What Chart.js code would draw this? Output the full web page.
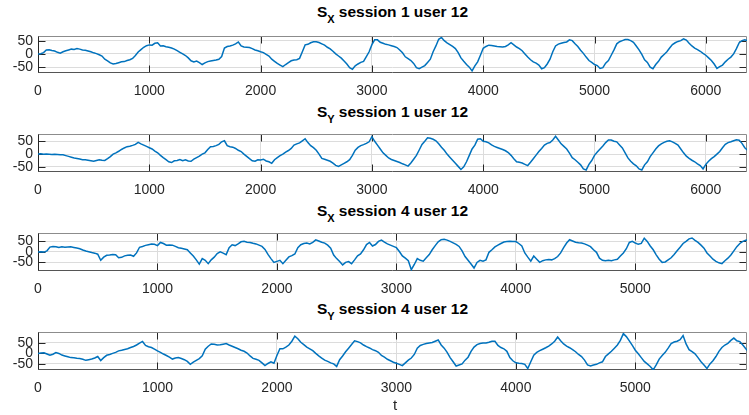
<!DOCTYPE html>
<html>
<head>
<meta charset="utf-8">
<script src="https://cdn.jsdelivr.net/npm/chart.js@4.4.0/dist/chart.umd.min.js"></script>
<style>
html,body{margin:0;padding:0;background:#fff;}
body{width:749px;height:415px;position:relative;overflow:hidden;font-family:"Liberation Sans",Arial,sans-serif;}
canvas{position:absolute;left:0;}
.title{position:absolute;left:38px;width:709px;text-align:center;font-weight:bold;font-size:15.5px;line-height:15px;color:#000;white-space:nowrap;}
.title .sub{font-size:11px;position:relative;top:6px;}
.xlabel{position:absolute;left:380px;width:30px;text-align:center;font-size:15px;line-height:15px;color:#262626;}
</style>
</head>
<body>
<div class="title" style="top:4px">S<span class="sub">X</span> session 1 user 12</div>
<div class="title" style="top:104px">S<span class="sub">Y</span> session 1 user 12</div>
<div class="title" style="top:203px">S<span class="sub">X</span> session 4 user 12</div>
<div class="title" style="top:301px">S<span class="sub">Y</span> session 4 user 12</div>
<canvas id="c1"></canvas>
<canvas id="c2"></canvas>
<canvas id="c3"></canvas>
<canvas id="c4"></canvas>
<div class="xlabel" style="top:397px">t</div>
<script>
// ---- data: values, one every SAMPLE_STEP units of t ----
const SAMPLE_STEP = 25;
const xTicksSession1 = [0, 1000, 2000, 3000, 4000, 5000, 6000];
const xTicksSession4 = [0, 1000, 2000, 3000, 4000, 5000];
const yTicks = [-50, 0, 50];

const sxSession1 = [
 0,1,5,15,16,13,11,6,3,8,
 12,15,18,17,20,18,15,14,11,8,
 4,1,-3,-8,-20,-26,-34,-38,-36,-33,
 -30,-29,-25,-22,-17,-6,7,16,25,31,
 34,33,40,42,30,31,27,25,22,18,
 12,6,0,-6,-15,-26,-30,-27,-33,-40,
 -34,-29,-27,-25,-23,-20,-10,22,28,30,
 33,38,45,30,26,25,24,20,15,12,
 8,5,-2,-8,-20,-28,-36,-42,-48,-40,
 -33,-26,-23,-22,-17,8,34,36,42,46,
 46,43,38,33,25,19,10,0,-8,-16,
 -27,-38,-52,-58,-45,-38,-32,-28,-10,8,
 35,53,53,44,40,36,34,31,28,24,
 15,4,-11,-18,-25,-36,-52,-56,-50,-44,
 -32,-20,8,30,55,62,50,42,35,28,
 20,5,-15,-28,-40,-50,-64,-45,-30,-5,
 21,28,33,32,30,28,27,26,28,34,
 42,34,26,20,12,0,-12,-22,-30,-35,
 -42,-56,-52,-38,-20,8,30,37,40,43,
 45,53,50,38,28,14,2,-12,-25,-32,
 -40,-44,-55,-52,-35,-25,-5,15,38,46,
 50,54,54,50,44,30,15,-2,-22,-32,
 -50,-56,-40,-28,-12,-2,8,22,35,42,
 47,50,57,52,40,30,22,16,10,2,
 -5,-15,-25,-38,-55,-48,-42,-30,-20,-12,
 0,20,42,50,53,50,48];

const sySession1 = [
 0,1,-1,0,-1,-2,-1,-2,-3,-3,
 -6,-9,-12,-15,-17,-19,-22,-22,-24,-26,
 -28,-25,-22,-24,-25,-18,-10,0,5,11,
 18,24,29,31,34,38,46,40,35,30,
 25,20,12,5,-5,-14,-22,-30,-33,-26,
 -25,-21,-26,-22,-27,-28,-20,-14,-8,0,
 5,18,29,30,33,38,48,52,33,29,
 27,22,15,10,0,-9,-18,-26,-28,-22,
 -23,-20,-27,-30,-36,-22,-14,-6,0,8,
 14,22,35,40,44,52,60,45,33,25,
 15,0,-17,-20,-24,-28,-35,-44,-48,-42,
 -36,-30,-22,-5,15,26,33,37,42,48,
 68,50,35,20,5,-5,-15,-21,-25,-29,
 -33,-38,-42,-47,-35,-20,-5,16,38,50,
 64,62,58,52,40,27,15,0,-12,-24,
 -36,-48,-60,-50,-30,-5,20,35,58,60,
 50,48,44,36,30,26,22,18,13,6,
 -5,-18,-30,-32,-35,-40,-45,-32,-18,-4,
 10,22,35,42,45,55,70,55,40,30,
 20,4,-14,-22,-32,-42,-58,-62,-40,-25,
 -5,8,20,32,45,55,55,50,48,36,
 24,5,-15,-28,-38,-46,-58,-62,-42,-30,
 -10,5,20,32,40,46,50,52,48,42,
 35,20,5,-8,-17,-24,-30,-38,-45,-58,
 -40,-28,-18,-10,0,10,25,38,45,48,
 52,56,54,42,25,15,10];

const sxSession4 = [
 0,1,-1,5,23,26,24,21,24,22,
 23,24,21,18,15,9,4,1,-3,-6,
 -11,-40,-25,-16,-15,-12,-14,-28,-26,-19,
 -16,-15,-21,-5,22,26,31,34,37,36,
 30,45,40,32,33,32,26,20,17,14,
 10,-5,-20,-38,-58,-32,-40,-56,-38,-25,
 -8,0,-6,-13,20,34,30,38,48,50,
 46,45,41,38,32,26,12,-12,-32,-50,
 -45,-40,-56,-40,-24,-18,-10,20,34,40,
 42,38,45,57,52,46,42,32,18,-15,
 -32,-46,-62,-50,-46,-56,-38,-19,-10,10,
 35,45,28,35,50,56,46,38,32,26,
 20,2,-19,-30,-42,-85,-60,-32,-40,-44,
 -28,-13,10,30,48,58,60,56,50,43,
 36,26,5,-22,-40,-58,-77,-50,-40,-44,
 -38,-2,10,24,32,40,47,49,51,50,
 49,40,28,-5,-25,-44,-20,-35,-50,-42,
 -38,-36,-38,-32,-22,-5,20,42,58,52,
 46,43,42,38,32,25,10,-2,-30,-40,
 -42,-40,-42,-38,-35,-20,-5,15,45,50,
 42,36,40,65,50,28,10,-14,-35,-50,
 -48,-38,-28,-12,5,22,40,50,62,66,
 55,45,32,18,-5,-20,-35,-45,-52,-56,
 -42,-30,-15,5,25,40,50,55,58];

const sySession4 = [
 0,2,3,-3,-9,-4,4,0,-8,-12,
 -16,-20,-21,-23,-24,-28,-33,-30,-27,-22,
 -15,-34,-20,-9,-5,0,5,12,15,19,
 22,28,33,40,49,57,38,32,28,20,
 12,5,-3,-10,-18,-27,-22,-20,-24,-30,
 -38,-52,-42,-33,-25,-12,20,34,45,44,
 40,41,44,47,40,34,28,22,15,10,
 2,-12,-24,-28,-33,-45,-58,-48,-40,-47,
 -10,22,22,30,40,58,82,70,53,42,
 30,22,13,0,-12,-22,-32,-38,-45,-50,
 -62,-30,-12,8,25,42,60,56,50,40,
 32,26,18,13,5,-10,-18,-28,-35,-42,
 -47,-52,-58,-45,-32,-22,-5,25,38,43,
 47,50,52,58,64,40,25,5,-20,-40,
 -60,-55,-50,-32,-18,10,30,42,47,49,
 50,53,58,58,38,28,22,10,-20,-35,
 -45,-47,-48,-52,-72,-40,-8,5,13,20,
 27,35,45,58,78,60,45,35,27,18,
 8,-5,-15,-32,-55,-60,-55,-52,-45,-40,
 -15,-2,10,25,40,62,94,80,60,38,
 15,-2,-20,-38,-50,-62,-78,-55,-27,-10,
 5,25,47,54,58,65,85,45,18,8,
 -2,-20,-40,-55,-72,-50,-35,-15,10,28,
 40,48,62,73,60,56,40,22,7];

// ---- styling ----
const FONT = '"Liberation Sans", Arial, sans-serif';
const AXIS_COLOR = '#262626';
const GRID_COLOR = '#dcdcdc';
const LINE_COLOR = '#0072BD';

const matlabAxes = {
  id: 'matlabAxes',
  beforeDatasetsDraw(chart) {
    const {ctx, chartArea: a, scales: {x, y}} = chart;
    const L = Math.round(a.left) + 0.5, R = Math.round(a.right) - 0.5;
    const T = Math.round(a.top) + 0.5, B = Math.round(a.bottom) - 0.5;
    ctx.save();
    ctx.lineWidth = 1;
    ctx.strokeStyle = AXIS_COLOR;
    ctx.beginPath();
    x.ticks.forEach(t => {
      const p = Math.round(x.getPixelForValue(t.value)) + 0.5;
      ctx.moveTo(p, T); ctx.lineTo(p, T + 7);
      ctx.moveTo(p, B); ctx.lineTo(p, B - 7);
    });
    y.ticks.forEach(t => {
      const p = Math.round(y.getPixelForValue(t.value)) + 0.5;
      ctx.moveTo(L, p); ctx.lineTo(L + 7, p);
      ctx.moveTo(R, p); ctx.lineTo(R - 7, p);
    });
    ctx.stroke();
    ctx.strokeStyle = '#8c8c8c';
    ctx.beginPath();
    ctx.moveTo(L, T); ctx.lineTo(R, T); ctx.lineTo(R, B);
    ctx.stroke();
    ctx.strokeStyle = '#555555';
    ctx.beginPath();
    ctx.moveTo(L, B); ctx.lineTo(R, B);
    ctx.stroke();
    ctx.strokeStyle = AXIS_COLOR;
    ctx.beginPath();
    ctx.moveTo(L, T); ctx.lineTo(L, B);
    ctx.stroke();
    ctx.restore();
  }
};

function makePlot(id, values, xTicks, xMax, yMin, yMax, plotTop, plotBottom) {
  const padTop = 6, xAxisH = 30;
  const canvas = document.getElementById(id);
  const h = padTop + (plotBottom - plotTop) + xAxisH;
  canvas.width = 749; canvas.height = h;
  canvas.style.top = (plotTop - padTop) + 'px';
  canvas.style.width = '749px'; canvas.style.height = h + 'px';
  const pts = values.map((v, i) => ({x: i * SAMPLE_STEP, y: v}));
  new Chart(canvas, {
    type: 'line',
    data: {datasets: [{data: pts, borderColor: LINE_COLOR, borderWidth: 1.5,
      pointRadius: 0, tension: 0, fill: false}]},
    options: {
      responsive: false, animation: false, devicePixelRatio: 1,
      layout: {padding: {top: padTop, right: 2, left: 0, bottom: 0}},
      plugins: {legend: {display: false}, tooltip: {enabled: false}, title: {display: false}},
      scales: {
        x: {
          type: 'linear', min: 0, max: xMax,
          afterBuildTicks: s => { s.ticks = xTicks.map(v => ({value: v})); },
          afterFit: s => { s.height = xAxisH; },
          grid: {color: GRID_COLOR, lineWidth: 1, drawTicks: false},
          border: {display: false},
          ticks: {color: AXIS_COLOR, font: {family: FONT, size: 14}, padding: 10,
            maxRotation: 0, autoSkip: false, callback: v => String(v)}
        },
        y: {
          type: 'linear', min: yMin, max: yMax,
          afterBuildTicks: s => { s.ticks = yTicks.map(v => ({value: v})); },
          afterFit: s => { s.width = 38; },
          grid: {color: GRID_COLOR, lineWidth: 1, drawTicks: false},
          border: {display: false},
          ticks: {color: AXIS_COLOR, font: {family: FONT, size: 14}, padding: 5,
            autoSkip: false, callback: v => String(v)}
        }
      }
    },
    plugins: [matlabAxes]
  });
}

makePlot('c1', sxSession1, xTicksSession1, 6370, -72, 66, 29, 73);
makePlot('c2', sySession1, xTicksSession1, 6370, -70, 77, 127, 172);
makePlot('c3', sxSession4, xTicksSession4, 5935, -91, 88, 226, 271);
makePlot('c4', sySession4, xTicksSession4, 5935, -79, 100, 325, 370);
</script>
</body>
</html>
